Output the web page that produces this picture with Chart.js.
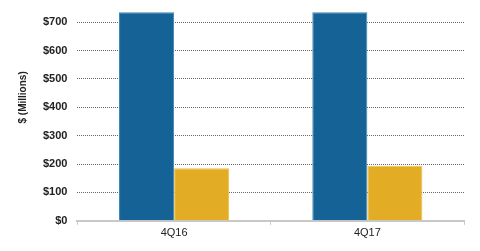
<!DOCTYPE html>
<html>
<head>
<meta charset="utf-8">
<script src="https://cdn.jsdelivr.net/npm/chart.js@4"></script>
<style>
  html, body { margin: 0; padding: 0; background: #fff; }
  #wrap { width: 480px; height: 251px; position: relative; }
</style>
</head>
<body>
<div id="wrap"><canvas id="c" width="480" height="251"></canvas></div>
<script>
const categories = ["4Q16", "4Q17"];
const seriesA = [735, 735];
const seriesB = [185, 194];
const yTicks = [0, 100, 200, 300, 400, 500, 600, 700];
const yTitle = "$ (Millions)";

const yTitlePlugin = {
  id: "yTitlePlugin",
  afterDraw(chart) {
    const ctx = chart.ctx;
    const s = chart.scales.y;
    const a = chart.chartArea;
    ctx.save();
    ctx.translate(s.left + 5, (a.top + a.bottom) / 2 - 17);
    ctx.rotate(-Math.PI / 2);
    ctx.font = "bold 10px 'Liberation Sans', Arial";
    ctx.fillStyle = "#222";
    ctx.textAlign = "center";
    ctx.textBaseline = "middle";
    ctx.fillText(yTitle, 0, 0);
    ctx.restore();
  }
};

new Chart(document.getElementById("c"), {
  type: "bar",
  data: {
    labels: categories,
    datasets: [
      { data: seriesA, backgroundColor: "#156396", borderColor: "#3d86b8", borderWidth: 1 },
      { data: seriesB, backgroundColor: "#e2ad25", borderColor: "#ecc04a", borderWidth: 1 }
    ]
  },
  plugins: [yTitlePlugin],
  options: {
    responsive: false,
    animation: false,
    layout: { padding: { top: 8, right: 16, bottom: 9, left: 18 } },
    plugins: { legend: { display: false }, tooltip: { enabled: false } },
    datasets: { bar: { categoryPercentage: 0.57, barPercentage: 1.0 } },
    scales: {
      x: {
        grid: { display: true, drawOnChartArea: false, drawTicks: true, tickLength: 4, color: "#c8c8c8", offset: true },
        border: { display: true, color: "#c8c8c8", width: 2 },
        ticks: { color: "#222", font: { family: "Liberation Sans, Arial", size: 11 }, padding: 2 }
      },
      y: {
        min: 0,
        max: 750,
        afterBuildTicks: (axis) => { axis.ticks = yTicks.map(v => ({ value: v })); },
        afterFit: (axis) => { axis.paddingTop = 0; },
        grid: {
          color: (ctx) => ctx.tick && ctx.tick.value === 0 ? "rgba(0,0,0,0)" : "#666666",
          drawTicks: false,
          lineWidth: 1
        },
        border: { display: false, dash: [1, 1] },
        ticks: {
          color: "#222",
          font: { family: "Liberation Sans, Arial", size: 11, weight: "bold" },
          padding: 10,
          callback: (v) => "$" + v
        },
        title: {
          display: true,
          text: yTitle,
          color: "rgba(0,0,0,0)",
          font: { family: "Liberation Sans, Arial", size: 10, weight: "bold" },
          padding: { top: 0, bottom: 3 }
        }
      }
    }
  }
});
</script>
</body>
</html>
